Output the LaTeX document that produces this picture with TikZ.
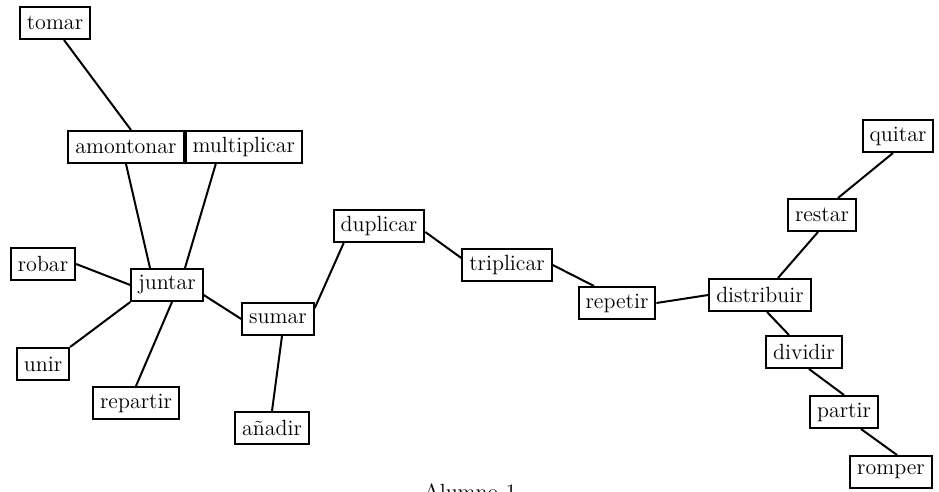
\documentclass[tikz,border=0pt]{standalone}
\tikzset{palabra/.style={draw,line width=1pt,fill=white,inner xsep=3.5pt,inner ysep=0pt,minimum height=16pt,font=\fontsize{11}{13}\selectfont}}
\begin{document}
\begin{tikzpicture}[x=0.5pt,y=-0.5pt,line width=1pt]
\useasboundingbox (0,0) rectangle (939,492);
\node[palabra] (tomar) at (55,23) {tomar};
\node[palabra] (amontonar) at (126,147) {amontonar};
\node[palabra,anchor=west] (multiplicar) at (amontonar.east) {multiplicar};
\node[palabra] (juntar) at (167,285) {juntar};
\node[palabra] (robar) at (43,264) {robar};
\node[palabra] (unir) at (43,364) {unir};
\node[palabra] (repartir) at (136,403) {repartir};
\node[palabra] (sumar) at (278,319) {sumar};
\node[palabra] (anadir) at (272,428) {añadir};
\node[palabra] (duplicar) at (379,226) {duplicar};
\node[palabra] (triplicar) at (507,265) {triplicar};
\node[palabra] (repetir) at (617,303) {repetir};
\node[palabra] (distribuir) at (760,295) {distribuir};
\node[palabra] (restar) at (822,215) {restar};
\node[palabra] (quitar) at (898,136) {quitar};
\node[palabra] (dividir) at (804,352) {dividir};
\node[palabra] (partir) at (844,412) {partir};
\node[palabra] (romper) at (891,472) {romper};
\node[anchor=base,font=\fontsize{11}{13}\selectfont] (caption) at (470,500) {Alumno 1};
\draw ([xshift=4.5pt]tomar.south) -- ([xshift=2.5pt]amontonar.north);
\draw (amontonar.south) -- ([xshift=-8.5pt]juntar.north);
\draw ([xshift=-14pt]multiplicar.south) -- ([xshift=9pt]juntar.north);
\draw (robar.east) -- (juntar.west);
\draw (unir.north east) -- (juntar.south west);
\draw (repartir.north) -- ([xshift=2.5pt]juntar.south);
\draw ([yshift=-5pt]juntar.east) -- (sumar.west);
\draw ([yshift=-3pt]sumar.north east) -- ([xshift=5.5pt]duplicar.south west);
\draw (anadir.north) -- ([xshift=2pt]sumar.south);
\draw ([yshift=-3pt]duplicar.east) -- ([yshift=3.5pt]triplicar.west);
\draw (triplicar.east) -- ([xshift=-11.5pt]repetir.north);
\draw (repetir.east) -- (distribuir.west);
\draw ([xshift=9pt]distribuir.north) -- ([xshift=-2pt]restar.south);
\draw ([xshift=8pt]restar.north) -- ([xshift=-2.5pt]quitar.south);
\draw ([xshift=3.5pt]distribuir.south) -- ([xshift=-7.5pt]dividir.north);
\draw ([xshift=2.5pt]dividir.south) -- (partir.north);
\draw ([xshift=8.5pt]partir.south) -- ([xshift=3pt]romper.north);
\end{tikzpicture}
\end{document}
